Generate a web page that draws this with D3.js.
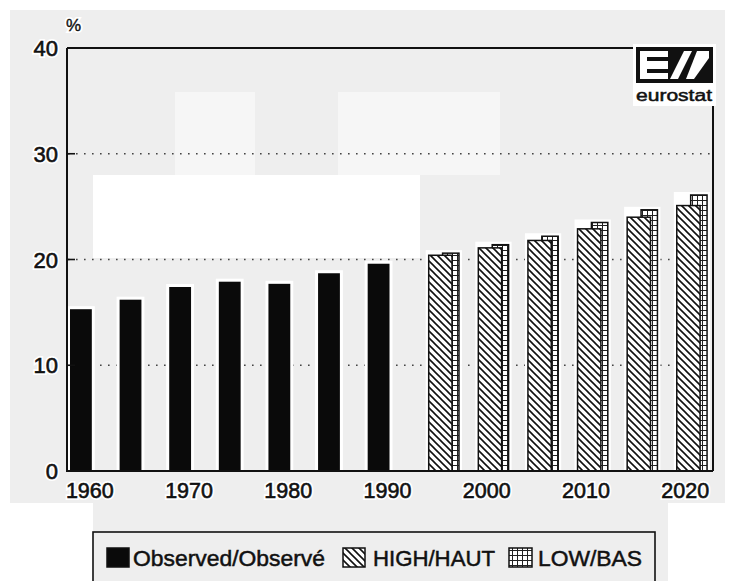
<!DOCTYPE html>
<html>
<head>
<meta charset="utf-8">
<script src="https://cdn.jsdelivr.net/npm/d3@7"></script>
<style>
  html, body { margin: 0; padding: 0; background: #ffffff; }
  svg { display: block; }
  text { font-family: "Liberation Sans", Arial, Helvetica, sans-serif; }
</style>
</head>
<body>
<svg id="chart" width="732" height="581"></svg>
<script>
// ---- data ----
const years = [1960, 1965, 1970, 1975, 1980, 1985, 1990, 1995, 2000, 2005, 2010, 2015, 2020];
const observedYears = [1960, 1965, 1970, 1975, 1980, 1985, 1990];
const observed = [15.3, 16.2, 17.4, 17.9, 17.7, 18.7, 19.6];
const projYears = [1995, 2000, 2005, 2010, 2015, 2020];
const high = [20.4, 21.1, 21.8, 22.9, 24.0, 25.1];
const low = [20.6, 21.4, 22.2, 23.5, 24.7, 26.1];
const yTicks = [0, 10, 20, 30, 40];
const xLabels = [1960, 1970, 1980, 1990, 2000, 2010, 2020];
const legendLabels = ["Observed/Observé", "HIGH/HAUT", "LOW/BAS"];
const unitLabel = "%";
const logoText = "eurostat";

(function () {
const svg = d3.select("#chart");
const defs = svg.append("defs");

// hatch patterns
const pHigh = defs.append("pattern").attr("id", "hatchHigh")
  .attr("patternUnits", "userSpaceOnUse").attr("width", 7).attr("height", 7);
pHigh.append("rect").attr("width", 7).attr("height", 7).attr("fill", "#fff");
pHigh.append("path").attr("d", "M-1,-1 L8,8 M-1,6 L1,8 M6,-1 L8,1")
  .attr("stroke", "#111").attr("stroke-width", 1.6);

const pLow = defs.append("pattern").attr("id", "hatchLow")
  .attr("patternUnits", "userSpaceOnUse").attr("width", 5).attr("height", 5);
pLow.append("rect").attr("width", 5).attr("height", 5).attr("fill", "#fff");
pLow.append("path").attr("d", "M2.5,0 L2.5,5 M0,0.5 L5,0.5")
  .attr("stroke", "#222").attr("stroke-width", 1);

// ---- background (scanned page tones) ----
const bg = svg.append("g");
bg.append("rect").attr("x", 10).attr("y", 10).attr("width", 715).attr("height", 493).attr("fill", "#eeeeee");
bg.append("rect").attr("x", 93).attr("y", 503).attr("width", 575).attr("height", 78).attr("fill", "#eeeeee");
bg.append("rect").attr("x", 175).attr("y", 92).attr("width", 80).attr("height", 83).attr("fill", "#f6f6f6");
bg.append("rect").attr("x", 338).attr("y", 92).attr("width", 162).attr("height", 83).attr("fill", "#f6f6f6");
bg.append("rect").attr("x", 93).attr("y", 175).attr("width", 327).attr("height", 83).attr("fill", "#ffffff");

// ---- scales ----
const pLeft = 68, pRight = 713, pTop = 48, pBottom = 471;
const x = d3.scaleBand().domain(years).range([pLeft, pRight]).paddingInner(0).paddingOuter(0);
const y = d3.scaleLinear().domain([0, 40]).range([pBottom, pTop]);
const bw = x.bandwidth();

// gridlines
svg.append("g").selectAll("line").data(yTicks.filter(d => d > 0 && d < 40)).join("line")
  .attr("x1", pLeft).attr("x2", pRight)
  .attr("y1", d => y(d)).attr("y2", d => y(d))
  .attr("stroke", "#444").attr("stroke-width", 1.6).attr("stroke-dasharray", "1.6,6.4");

// ---- bars ----
const halo = 3;
const obsData = observedYears.map((yr, i) => ({ yr, v: observed[i] }));
const projData = projYears.map((yr, i) => ({ yr, h: high[i], l: low[i] }));

const gBars = svg.append("g");
gBars.selectAll("rect.haloObs").data(obsData).join("rect")
  .attr("x", d => x(d.yr) + 0.04 * bw - halo)
  .attr("y", d => y(d.v) - halo)
  .attr("width", 0.44 * bw + 2 * halo)
  .attr("height", d => y(0) - y(d.v) + halo)
  .attr("fill", "#fff");
gBars.selectAll("rect.haloProj").data(projData).join("rect")
  .attr("x", d => x(d.yr) + 0.27 * bw - halo)
  .attr("y", d => y(Math.max(d.h, d.l)) - halo)
  .attr("width", 0.61 * bw + 2 * halo)
  .attr("height", d => y(0) - y(Math.max(d.h, d.l)) + halo)
  .attr("fill", "#fff");

gBars.selectAll("rect.obs").data(obsData).join("rect")
  .attr("x", d => x(d.yr) + 0.04 * bw)
  .attr("y", d => y(d.v))
  .attr("width", 0.44 * bw)
  .attr("height", d => y(0) - y(d.v))
  .attr("fill", "#0a0a0a");

gBars.selectAll("rect.low").data(projData).join("rect")
  .attr("x", d => x(d.yr) + 0.55 * bw)
  .attr("y", d => y(d.l))
  .attr("width", 0.33 * bw)
  .attr("height", d => y(0) - y(d.l))
  .attr("fill", "url(#hatchLow)")
  .attr("stroke", "#111").attr("stroke-width", 1.5);

gBars.selectAll("rect.high").data(projData).join("rect")
  .attr("x", d => x(d.yr) + 0.27 * bw)
  .attr("y", d => y(d.h))
  .attr("width", 0.47 * bw)
  .attr("height", d => y(0) - y(d.h))
  .attr("fill", "url(#hatchHigh)")
  .attr("stroke", "#111").attr("stroke-width", 1.5);

// ---- frame / axes ----
const frame = svg.append("g").attr("stroke", "#111").attr("stroke-width", 2).attr("fill", "none");
frame.append("line").attr("x1", pLeft - 1).attr("x2", pLeft - 1).attr("y1", pTop).attr("y2", pBottom + 1);
frame.append("line").attr("x1", pLeft - 1).attr("x2", pRight).attr("y1", pBottom).attr("y2", pBottom);
frame.append("line").attr("x1", pLeft - 1).attr("x2", 636).attr("y1", pTop).attr("y2", pTop);
frame.append("line").attr("x1", pRight).attr("x2", pRight).attr("y1", 104).attr("y2", pBottom);

// helper: text with white halo and slightly heavier glyphs (scan look)
function haloText(sel) {
  sel.clone(true).lower ? null : null;
}

// y-axis ticks and labels
const yAxis = svg.append("g");
yAxis.selectAll("line").data(yTicks.filter(d => d > 0)).join("line")
  .attr("x1", pLeft - 1).attr("x2", pLeft + 7)
  .attr("y1", d => y(d)).attr("y2", d => y(d))
  .attr("stroke", "#111").attr("stroke-width", 1.6);
["halo", "ink"].forEach(layer => {
  yAxis.append("g").selectAll("text").data(yTicks).join("text")
    .attr("x", 58).attr("y", d => y(d) + 8)
    .attr("text-anchor", "end")
    .attr("font-size", 22)
    .attr("fill", "#111")
    .attr("stroke", layer === "halo" ? "#fff" : "#111")
    .attr("stroke-width", layer === "halo" ? 4 : 0.6)
    .text(d => d);
});

["halo", "ink"].forEach(layer => {
  svg.append("text").attr("x", 66).attr("y", 31).attr("font-size", 17).attr("fill", "#111")
    .attr("stroke", layer === "halo" ? "#fff" : "#111")
    .attr("stroke-width", layer === "halo" ? 4 : 0.4)
    .text(unitLabel);
});

// x-axis labels
const xAxis = svg.append("g");
["halo", "ink"].forEach(layer => {
  xAxis.append("g").selectAll("text").data(xLabels).join("text")
    .attr("x", d => x(d) + 0.44 * bw)
    .attr("y", 498)
    .attr("text-anchor", "middle")
    .attr("font-size", 21.5)
    .attr("fill", "#111")
    .attr("stroke", layer === "halo" ? "#fff" : "#111")
    .attr("stroke-width", layer === "halo" ? 4 : 0.6)
    .text(d => d);
});

// ---- eurostat logo ----
const logo = svg.append("g");
logo.append("rect").attr("x", 633).attr("y", 44).attr("width", 83).attr("height", 62).attr("fill", "#fff");
logo.append("rect").attr("x", 636).attr("y", 47).attr("width", 77).attr("height", 36).attr("fill", "#111");
logo.append("rect").attr("x", 640).attr("y", 51).attr("width", 28).attr("height", 28).attr("fill", "#fff");
logo.append("rect").attr("x", 647).attr("y", 57).attr("width", 21).attr("height", 4).attr("fill", "#111");
logo.append("rect").attr("x", 647).attr("y", 69).attr("width", 21).attr("height", 4).attr("fill", "#111");
logo.append("polygon").attr("points", "684,51 692,51 678,79 670,79").attr("fill", "#fff");
logo.append("polygon").attr("points", "697,51 709,51 709,58 694,79 686,79").attr("fill", "#fff");
logo.append("text").attr("x", 674).attr("y", 101).attr("text-anchor", "middle")
  .attr("font-size", 16).attr("fill", "#111").attr("stroke", "#111").attr("stroke-width", 0.5)
  .attr("textLength", 76).attr("lengthAdjust", "spacingAndGlyphs")
  .text(logoText);

// ---- legend ----
const lg = svg.append("g");
lg.append("rect").attr("x", 93).attr("y", 532).attr("width", 562).attr("height", 60)
  .attr("fill", "none").attr("stroke", "#111").attr("stroke-width", 1.6);
const legendItems = [
  { label: legendLabels[0], fill: "#0a0a0a", sx: 107, sw: 22, tx: 133, tw: 192 },
  { label: legendLabels[1], fill: "url(#hatchHigh)", sx: 343, sw: 22, tx: 373, tw: 122 },
  { label: legendLabels[2], fill: "url(#hatchLow)", sx: 509, sw: 23, tx: 538, tw: 104 }
];
lg.selectAll("rect.sw").data(legendItems).join("rect")
  .attr("x", d => d.sx).attr("y", 548).attr("width", d => d.sw).attr("height", 19)
  .attr("fill", d => d.fill).attr("stroke", "#111").attr("stroke-width", 1.5);
lg.selectAll("text").data(legendItems).join("text")
  .attr("x", d => d.tx).attr("y", 566)
  .attr("font-size", 22.5).attr("fill", "#111").attr("stroke", "#111").attr("stroke-width", 0.5)
  .attr("textLength", d => d.tw).attr("lengthAdjust", "spacingAndGlyphs")
  .text(d => d.label);
})();
</script>
</body>
</html>
